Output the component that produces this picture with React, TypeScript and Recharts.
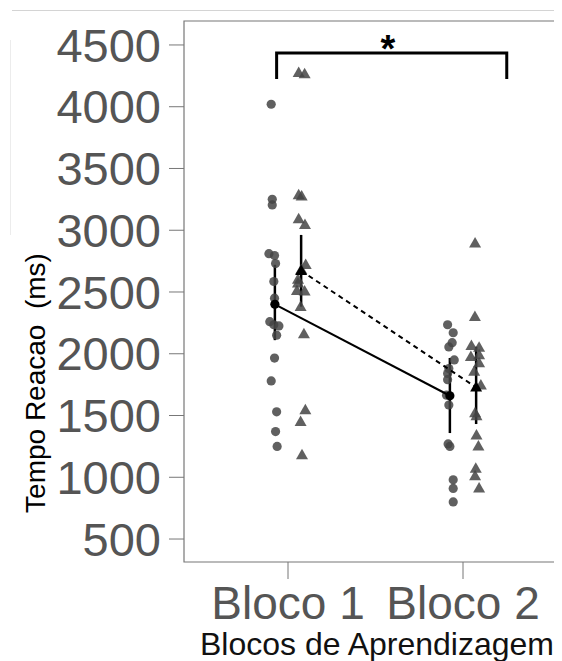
import {
  ComposedChart,
  Scatter,
  XAxis,
  YAxis,
  ErrorBar,
  ReferenceArea,
} from 'recharts';

const blocks = ['Bloco 1', 'Bloco 2'];
const yTicks = [500, 1000, 1500, 2000, 2500, 3000, 3500, 4000, 4500];

// individual reaction times (ms), circles = group A, triangles = group B
const b1Circles = [4020, 3250, 3205, 2810, 2795, 2730, 2585, 2450, 2260, 2235, 2225, 2150, 1965, 1780, 1530, 1370, 1250];
const b1CirclesJitter = [-0.021, -0.015, -0.015, -0.034, -0.002, 0.004, -0.006, -0.002, -0.029, -0.006, 0.023, 0.01, -0.002, -0.021, 0.01, 0.004, 0.013];
const b1Triangles = [4275, 4265, 3285, 3275, 3090, 3045, 2720, 2680, 2600, 2570, 2510, 2505, 2380, 2160, 1545, 1450, 1180];
const b1TrianglesJitter = [-0.014, 0.02, -0.014, 0.003, -0.014, 0.022, 0.026, 0.001, -0.018, -0.018, -0.024, 0.02, -0.003, 0.016, 0.024, -0.003, 0.005];
const b2Circles = [2235, 2170, 2090, 2055, 1950, 1880, 1840, 1790, 1665, 1585, 1270, 1250, 980, 910, 800];
const b2CirclesJitter = [-0.013, 0.019, 0.013, -0.006, 0.025, -0.006, -0.013, -0.013, -0.019, -0.006, -0.01, 0, 0.019, 0.019, 0.019];
const b2Triangles = [2895, 2300, 2065, 2050, 1990, 1975, 1925, 1855, 1745, 1520, 1495, 1340, 1250, 1070, 1010, 910];
const b2TrianglesJitter = [-0.006, -0.007, -0.027, 0.017, 0.017, -0.03, 0.017, -0.011, 0.027, -0.006, 0.002, 0.002, 0.013, -0.002, -0.006, 0.017];

// group means with interval limits, per block
const circleMean = [2400, 1660];
const circleLow = [2110, 1358];
const circleHigh = [2720, 1966];
const triangleMean = [2672, 1728];
const triangleLow = [2381, 1431];
const triangleHigh = [2962, 2057];

const DODGE = 0.075;
const POINT = '#444';
const FONT = '"Liberation Sans", Arial, sans-serif';

const toPoints = (vals: number[], jitter: number[], center: number) =>
  vals.map((y, i) => ({ x: center + jitter[i], y }));

const toMeans = (mean: number[], low: number[], high: number[], shift: number) =>
  mean.map((y, i) => ({ x: i + 1 + shift, y, err: [y - low[i], high[i] - y] }));

const circlePts = [
  ...toPoints(b1Circles, b1CirclesJitter, 1 - DODGE),
  ...toPoints(b2Circles, b2CirclesJitter, 2 - DODGE),
];
const trianglePts = [
  ...toPoints(b1Triangles, b1TrianglesJitter, 1 + DODGE),
  ...toPoints(b2Triangles, b2TrianglesJitter, 2 + DODGE),
];
const circleMeans = toMeans(circleMean, circleLow, circleHigh, -DODGE);
const triangleMeans = toMeans(triangleMean, triangleLow, triangleHigh, DODGE);

// significance bracket between the two blocks
const bracket = [
  { x: 0.935, y: 4225 },
  { x: 0.935, y: 4435 },
  { x: 2.25, y: 4435 },
  { x: 2.25, y: 4225 },
];

const Dot = (color: string) => (p: any) =>
  <circle cx={p.cx} cy={p.cy} r={4.6} fill={color} fillOpacity={color === '#000' ? 1 : 0.85} />;

const Tri = (color: string) => (p: any) => {
  const h = 10.5;
  const w = 12;
  const pts = `${p.cx},${p.cy - h * 0.6} ${p.cx - w / 2},${p.cy + h * 0.4} ${p.cx + w / 2},${p.cy + h * 0.4}`;
  return <polygon points={pts} fill={color} fillOpacity={color === '#000' ? 1 : 0.85} />;
};

const Empty = () => <g />;

export default function App() {
  return (
    <div style={{ position: 'relative', width: 554, height: 653, overflow: 'hidden', fontFamily: FONT }}>
      <div style={{ position: 'absolute', left: 4, top: 2, width: 560, height: 1, background: '#d4d4d4' }} />
      <div style={{ position: 'absolute', left: 2, top: 32, width: 1, height: 195, background: '#ececec' }} />
      <ComposedChart
        width={600}
        height={653}
        margin={{ top: 13, right: 10, bottom: 0, left: 0 }}
        style={{ fontFamily: FONT }}
      >
        <XAxis
          type="number"
          dataKey="x"
          domain={[0.4057, 2.7714]}
          ticks={[1, 2]}
          tickFormatter={(v: number) => blocks[v - 1]}
          allowDataOverflow
          height={99}
          tickSize={17}
          tickMargin={7}
          axisLine={false}
          tickLine={{ stroke: '#777' }}
          tick={{ fontSize: 46, fill: '#555' }}
        />
        <YAxis
          type="number"
          dataKey="y"
          domain={[314, 4694]}
          ticks={yTicks}
          allowDataOverflow
          width={176}
          tickSize={15}
          tickMargin={8}
          axisLine={false}
          tickLine={{ stroke: '#777' }}
          tick={{ fontSize: 47, fill: '#555' }}
        />
        <ReferenceArea x1={0.4057} x2={2.7714} y1={314} y2={4694} fill="none" stroke="#777" strokeWidth={1.2} />
        <Scatter data={circlePts} shape={Dot(POINT)} isAnimationActive={false} />
        <Scatter data={trianglePts} shape={Tri(POINT)} isAnimationActive={false} />
        <Scatter
          data={circleMeans}
          shape={Dot('#000')}
          line={{ stroke: '#000', strokeWidth: 2 }}
          isAnimationActive={false}
        >
          <ErrorBar dataKey="err" direction="y" width={0} stroke="#000" strokeWidth={2.5} />
        </Scatter>
        <Scatter
          data={triangleMeans}
          shape={Tri('#000')}
          line={{ stroke: '#000', strokeWidth: 2, strokeDasharray: '5 4' }}
          isAnimationActive={false}
        >
          <ErrorBar dataKey="err" direction="y" width={0} stroke="#000" strokeWidth={2.5} />
        </Scatter>
        <Scatter data={bracket} shape={Empty} line={{ stroke: '#000', strokeWidth: 3 }} isAnimationActive={false} />
        <text x={380} y={54} textAnchor="middle" fontSize={38} fontWeight="bold" fill="#000">*</text>
        <text
          x={27}
          y={375}
          transform="rotate(-90 27 375)"
          textAnchor="middle"
          dominantBaseline="central"
          fontSize={28}
          fill="#000"
          style={{ whiteSpace: 'pre' }}
        >
          {'Tempo Reacao  (ms)'}
        </text>
        <text x={369} y={647} textAnchor="middle" fontSize={32} fill="#111">
          Blocos de Aprendizagem
        </text>
      </ComposedChart>
    </div>
  );
}
